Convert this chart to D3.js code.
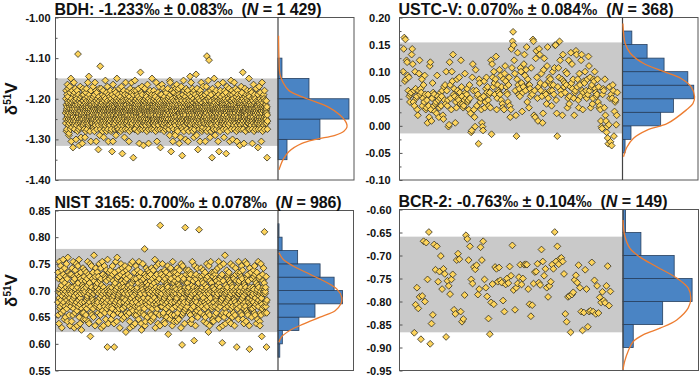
<!DOCTYPE html>
<html>
<head>
<meta charset="utf-8">
<script src="https://cdn.jsdelivr.net/npm/d3@7"></script>
<style>
  body { margin: 0; background: #fff; }
  svg { display: block; font-family: "Liberation Sans", Arial, sans-serif; }
</style>
</head>
<body>
<svg id="chart" width="700" height="376"></svg>
<script>
// ---- titles ----
var sampleNames = ["BDH", "USTC-V", "NIST 3165", "BCR-2"];
var sampleMeans = ["-1.233", "0.070", "0.700", "-0.763"];
var sampleSds = ["0.083", "0.084", "0.078", "0.104"];
var sampleN = ["1 429", "368", "986", "149"];
var meanVals = [-1.233, 0.070, 0.700, -0.763];
var sdVals = [0.083, 0.084, 0.078, 0.104];

// ---- y axes ----
var yDomains = [[-1.40, -1.00], [-0.10, 0.20], [0.55, 0.85], [-0.95, -0.60]];
var yMajor = [
  [-1.40, -1.30, -1.20, -1.10, -1.00],
  [-0.10, -0.05, 0, 0.05, 0.10, 0.15, 0.20],
  [0.55, 0.60, 0.65, 0.70, 0.75, 0.80, 0.85],
  [-0.95, -0.90, -0.85, -0.80, -0.75, -0.70, -0.65, -0.60]
];
var yMinor = [
  [-1.35, -1.25, -1.15, -1.05],
  [-0.075, -0.025, 0.025, 0.075, 0.125, 0.175],
  [],
  []
];

var codeChars = "0123456789abcdefghijklmnopqrstuvwxyzABCDEFGHIJKLMNOPQRSTUVWXYZ";
// BDH: value = -1.36 + code*0.005
var bdhCodes = [
  "pkwmAtgqrhysnDovlxuBmjqefptksCnrzvhmoGlqbtwpiusAqkrm8onvlyEtj",
  "sqhzmrkBtvolcxpnjwqsAumgrtSkonyphlq9vmsiwrCtkqudlnxomjrpaysvB",
  "mrjvtyqokhAsnpdlwuqmgzrsBtokvhnpxmElqrjtsHkmoyvpngwqtrlbAusmk",
  "vtnoqlwkmsCpirxhumqgsyoEtrkjnpAvbqmlzhsrtwpkunq7mjoxrBsvelqtM",
  "qhnsrBmtowjkpvuygrmlAqsdntkxvrphoqjFmwsltrkzgunpqCmvshotbyrkq",
  "krmptxjqolAsvngwhrmuq6ysktpbDnqvrolmjxtshAkprmqzeuvnlowGqtrhi",
  "omqvyrkhtpsBnlwjqmuxrgsotkCvnpqh5zrmsjlwqtvAokpdnmyrhqsEltuvk",
  "tpkqnrwmlhoysAvjqbmurgxtsnkBpqvmolhzEqrtjksnwupm3yqoArlvhtsFp",
  "hqrvsmkAtowpnljyurqgmsxkBtvopanqrlhwmJsqtkpzvnomCryhjslqtu9kv",
  "nsvmqtBkrlohpwjqumyxrgtspDkqnvolmahwrzqtsjkpAunvmoqrlhxtyGsmk",
  "rqpotmkvsAhnlwjyqmruxtgskpEnovqbmrlhsqzwktjpnumCrvoqlhy8stmpk",
  "uylqkDrnmsvhtoBjpwqrgmkxtnsvolAhqrpzmuitksnqvBroljmwtqhxsupeF",
  "jtEylvno6mrkqAsuipwtbqlzomhvzrnCsktpfeqjmBuxlvoDnsyhrqgtAmwkp",
  "BvsyaprjmoxnldukqtCrwismv4qlhpynokFtrgmuAsqwjnpxclovtBkrmzhqs",
  "kmsuAblrtqwgnpvyomkHstjrqlEmxpnhvkotBsrzgmquwldpnsAhkoqytvjrm",
  "ItqlevsBrxojm7qnukpwtrshzlmqbvApnjkrtEoysgqmuhxripCsmkwlqontv",
  "qkrybtohsvmCqpnRgzkrtlswmFjqohPrvxktndsqAlmrgyuvpkj3otmBrsnhq",
  "ihrtqGwolnvuezqmrpkAhstxjmlorvqnDbptksy6qumrhwgnvsAloqjxtpmrk",
  "kvutlEsqhrymndpkoAvtqwljsmrz5hqpnvCktosgrxumqjwlnBsptbkryvqmo",
  "pFsthvlrAoqycmpuwnsktjrqEzhlomvqpBknstxgrumbqjvAsyohlmwrnqkpt",
  "vk9utqlsjhyrCmonvzpktqsJmwhlrqnaponqvtBkxsmgqruyjlnpwotAkmsvrhq",
  "kmsGytxhlrqomvnuApkjstqzrwhamlovnqkDpstgrxymuqjwpholrkBtqmvsn",
  "kpmts8yhlqovrCmunpjtkwzqshlrmbqvonEpksgtxurmqyjwlnhAsvkmtopqr",
  "tqmvrkps3ohl"
].join("");
// USTC-V: value = -0.04 + code*0.0035
var ustcCodes = [
  "EQWzVAKJCuBrostNQIoumEvqrkhuDKsvtAmqxo",
  "CsklpdsmgHJkeqytmsjnoiCrpglqtmruhfwpxn",
  "EumpbcJxqkEzNsvrdolAuqpBtnKwrnlmpDtqsvo",
  "pkxqi89BIukgbFumrs2Ayoqkdb9rzlovBtwpms",
  "tlK7IBwEysAMkqxutFsCpwnlAkDHzwtsoxBmgk",
  "QGUZSKDuh6AOxsvrGEyjtwINCuFRoAxlxvrGts",
  "VUhugLPBqewQNyuDrdiFLxtsnHRqzBuAxmuExs",
  "GSSpi6wGBUKusAhNzwytExDlqKnrwOyIvAqhtu",
  "PNwAplDxrKNuktzyEruqAsMHuBlwxnqAzEvtrs",
  "AowlmkebasvulAhe8b52cwq3s1qxu6jopcht"
].join("");
// NIST 3165: value = 0.59 + code*0.004
var nistCodes = [
  "mAgrxcoFsjyqkDtnhuaBplwrGzimseqCvkfoyrtEjnxdpHqlAusgmzobrt",
  "qkzsdmCnrtgFwjoyapxhBlrsuEmqibtzDvkpnGfrylcoxAqs9mjwhurCte",
  "hsyqmBkrwegtAnjxopFuldzrcqvmyE6ksrhDtgpoxnAjfqIwmslbyrCtuk",
  "trlAvnmhyqdsEjokwgrCxpaumFiqzsnbtlrDkhoyxeqmBwjs1GrncpkqAt",
  "xqhsBrmeyktojDznwgrpc1uAlvqmFrsidnHxtkyohpBjqlaumrzEsgwtoC",
  "ejrvAomtfqyDkwn8shBxlrgtpzqmCuhkdsaynrEotjvqlFmibpwxsAgrck",
  "nqDxgmrstiBkvoezFljyphrAqnc9wumtsEhkxogrjLzbqdmyCvtlnfrsBu",
  "soyrkAmqhwdzgtCnrujxepBlfsvqoGyamrtkDhzljnwcqsErxmgtbWopkA",
  "zrqkmEtsghwyndoBcrxlpjAqfvumsDt7ykqhrnzeowClxgmsrbjFtpqAvd",
  "grmwtyAkqnsodCfhzvxleurBjpqmtsaEkry2gnDohlwxqmcisVtjvzBrpq",
  "kvsmqrBtyhnxdogAzcprjeuFqmlwskt4ryDnhbqxzomgiCtfsrvpkUyjlq",
  "rqhxCmsypkwtnvBozgdrmjAfuqlsxcEtknyrh8pDqmbgwsoFzlrvjAtkde",
  "ytdmrAqsgkzxoBhwnprluCqjeFmvsaxtkrDmyngqz3obhwrEsfplqItjcu",
  "hmqBsrtynkxzoAdgwrpvlEcqjmsuftkDrhyxonbqgsmCzwkr1tlpjAqeFv",
  "qwszrmkAhtynDgxqoBerlpcjvsumFkqtdirEyxhzgnwrmob0CsqtlkAjpf",
  "nxpjrtqmBsyhDkgzowlvcqArsemuFkntpxydbhqrEgmo6ljszwqtCrkvTh",
  "sqrtkmy1hn"
].join("");
// BCR-2: values in sequence order
var bcrValues = [-0.868, -0.807, -0.770, -0.815, -0.790, -0.882, -0.788, -0.669, -0.800, -0.672,
  -0.752, -0.649, -0.892, -0.848, -0.829, -0.676, -0.731, -0.680, -0.757, -0.735,
  -0.701, -0.773, -0.729, -0.740, -0.877, -0.755, -0.766, -0.784, -0.752, -0.741,
  -0.818, -0.827, -0.710, -0.696, -0.708, -0.822, -0.844, -0.838, -0.786, -0.656,
  -0.664, -0.710, -0.680, -0.752, -0.761, -0.725, -0.730, -0.721, -0.785, -0.773,
  -0.682, -0.710, -0.669, -0.752, -0.770, -0.789, -0.837, -0.871, -0.802, -0.762,
  -0.806, -0.725, -0.729, -0.757, -0.726, -0.754, -0.759, -0.798, -0.822, -0.763,
  -0.750, -0.760, -0.724, -0.744, -0.678, -0.775, -0.818, -0.770, -0.761, -0.747,
  -0.720, -0.763, -0.750, -0.720, -0.719, -0.720, -0.773, -0.806, -0.832, -0.808,
  -0.761, -0.736, -0.735, -0.718, -0.759, -0.764, -0.687, -0.713, -0.744, -0.729,
  -0.770, -0.790, -0.766, -0.757, -0.720, -0.729, -0.649, -0.713, -0.680, -0.719,
  -0.707, -0.705, -0.713, -0.740, -0.827, -0.844, -0.790, -0.788, -0.867, -0.785,
  -0.780, -0.753, -0.743, -0.759, -0.721, -0.770, -0.822, -0.863, -0.824, -0.731,
  -0.773, -0.855, -0.822, -0.820, -0.715, -0.822, -0.754, -0.827, -0.766, -0.825,
  -0.791, -0.802, -0.779, -0.798, -0.803, -0.766, -0.723, -0.809, -0.778];

// ---- histograms (bin edges, counts) ----
var bdhEdges = [-1.35, -1.30, -1.25, -1.20, -1.15, -1.10];
var bdhCounts = [82, 382, 646, 282, 36];
var ustcEdges = [-0.05, -0.025, 0, 0.025, 0.05, 0.075, 0.10, 0.125, 0.15, 0.175];
var ustcCounts = [3, 10, 45, 60, 84, 77, 49, 29, 11];
var nistEdges = [0.575, 0.60, 0.625, 0.65, 0.675, 0.70, 0.725, 0.75, 0.775, 0.80, 0.825];
var nistCounts = [7, 17, 82, 145, 253, 220, 165, 77, 16, 4];
var bcrEdges = [-0.90, -0.85, -0.80, -0.75, -0.70, -0.65, -0.60];
var bcrCounts = [8, 31, 54, 40, 14, 2];

// ---- fitted curves [value, count] ----
var bdhCurve = [[-1.045, 5], [-1.10, 9], [-1.14, 18], [-1.16, 46], [-1.18, 100], [-1.20, 264],
  [-1.22, 455], [-1.24, 564], [-1.26, 623], [-1.27, 628], [-1.28, 600], [-1.29, 519],
  [-1.30, 346], [-1.31, 218], [-1.33, 100], [-1.35, 46], [-1.375, 9]];
var ustcCurve = [[0.189, 0.5], [0.152, 3.2], [0.134, 9.2], [0.115, 25], [0.10, 49], [0.0875, 69],
  [0.072, 81], [0.0535, 85], [0.041, 83], [0.029, 75], [0.0044, 53], [-0.008, 29],
  [-0.023, 13], [-0.039, 5.3], [-0.057, 1.2]];
var nistCurve = [[0.771, 4], [0.7585, 20], [0.746, 59], [0.7305, 125], [0.715, 191], [0.7025, 231],
  [0.687, 250], [0.6745, 246], [0.662, 224], [0.65, 165], [0.637, 99], [0.625, 46],
  [0.6125, 13], [0.603, 4]];
var bcrCurve = [[-0.623, 0], [-0.656, 1.3], [-0.684, 5.3], [-0.703, 13], [-0.724, 26], [-0.749, 42],
  [-0.771, 51], [-0.793, 53], [-0.814, 51], [-0.84, 42], [-0.858, 29], [-0.872, 16],
  [-0.887, 8], [-0.908, 4], [-0.93, 1.3], [-0.948, 0]];

function decode(str, lo, step) {
  return str.split("").map(function(c) { return lo + codeChars.indexOf(c) * step; });
}

var seriesValues = [
  decode(bdhCodes, -1.36, 0.005),
  decode(ustcCodes, -0.04, 0.0035),
  decode(nistCodes, 0.59, 0.004),
  bcrValues
];
var histEdges = [bdhEdges, ustcEdges, nistEdges, bcrEdges];
var histCounts = [bdhCounts, ustcCounts, nistCounts, bcrCounts];
var curves = [bdhCurve, ustcCurve, nistCurve, bcrCurve];

// layout of the four panels
var panels = [
  {x0: 55.5, x1: 278, x2: 354, y0: 17.5, y1: 180, gap: 5, padL: 0.05, padR: 0.052, hMax: 692, tw: 267},
  {x0: 399.5, x1: 622.5, x2: 698, y0: 17.5, y1: 180, gap: 9, padL: 0.017, padR: 0.024, hMax: 89, tw: 275},
  {x0: 55.5, x1: 278, x2: 353.5, y0: 210.5, y1: 370.5, gap: 5, padL: 0.011, padR: 0.053, hMax: 296, tw: 287},
  {x0: 399.5, x1: 623, x2: 698.5, y0: 209.5, y1: 370.5, gap: 8, padL: 0.075, padR: 0.064, hMax: 59, tw: 269}
];

var svg = d3.select("#chart");
var diamond = d3.symbol().type(d3.symbolSquare).size(23);

panels.forEach(function(p, k) {
  var vals = seriesValues[k];
  var n = vals.length;
  var x = d3.scaleLinear().domain([-p.padL * n, (n - 1) + p.padR * n]).range([p.x0, p.x1]);
  var y = d3.scaleLinear().domain(yDomains[k]).range([p.y1, p.y0]);
  var hx = d3.scaleLinear().domain([0, p.hMax]).range([p.x1, p.x2]);
  var g = svg.append("g");

  // mean +/- sd band
  g.append("rect")
    .attr("x", p.x0).attr("width", p.x1 - p.x0)
    .attr("y", y(meanVals[k] + sdVals[k]))
    .attr("height", y(meanVals[k] - sdVals[k]) - y(meanVals[k] + sdVals[k]))
    .attr("fill", "#c9c9c9");

  // points
  g.append("g").selectAll("path")
    .data(vals)
    .enter()
    .append("path")
    .attr("d", diamond)
    .attr("transform", function(d, i) { return "translate(" + x(i) + "," + y(d) + ") rotate(45)"; })
    .attr("fill", "#fdd45c")
    .attr("stroke", "#2f2b1c")
    .attr("stroke-width", 0.75);

  // histogram
  var edges = histEdges[k];
  g.append("g").selectAll("rect")
    .data(histCounts[k])
    .enter()
    .append("rect")
    .attr("x", p.x1)
    .attr("y", function(d, i) { return y(edges[i + 1]); })
    .attr("width", function(d) { return hx(d) - p.x1; })
    .attr("height", function(d, i) { return y(edges[i]) - y(edges[i + 1]); })
    .attr("fill", "#4a84c4")
    .attr("stroke", "#263f5e")
    .attr("stroke-width", 0.8);

  // frame + divider
  g.append("rect")
    .attr("x", p.x0).attr("y", p.y0)
    .attr("width", p.x2 - p.x0).attr("height", p.y1 - p.y0)
    .attr("fill", "none").attr("stroke", "#555").attr("stroke-width", 1);
  g.append("line")
    .attr("x1", p.x1).attr("x2", p.x1).attr("y1", p.y0).attr("y2", p.y1)
    .attr("stroke", "#444").attr("stroke-width", 1.2);

  // fitted curve
  var line = d3.line()
    .x(function(d) { return hx(d[1]); })
    .y(function(d) { return y(d[0]); })
    .curve(d3.curveCatmullRom);
  g.append("path")
    .attr("d", line(curves[k]))
    .attr("fill", "none")
    .attr("stroke", "#ed7d31")
    .attr("stroke-width", 1.3);

  // y axis
  var ax = g.append("g")
    .attr("transform", "translate(" + p.x0 + ",0)")
    .call(d3.axisLeft(y).tickValues(yMajor[k]).tickSize(-3).tickPadding(p.gap)
      .tickFormat(function(d) { return d.toFixed(2); }));
  ax.select(".domain").remove();
  ax.selectAll("line").attr("stroke", "#555");
  ax.selectAll("text")
    .attr("font-family", "Liberation Sans, Arial, sans-serif")
    .attr("font-size", 11).attr("font-weight", "bold").attr("fill", "#111");
  if (yMinor[k].length) {
    var mx = g.append("g")
      .attr("transform", "translate(" + p.x0 + ",0)")
      .call(d3.axisLeft(y).tickValues(yMinor[k]).tickSize(-2).tickFormat(""));
    mx.select(".domain").remove();
    mx.selectAll("line").attr("stroke", "#555");
  }

  // title
  var t = g.append("text")
    .attr("x", p.x0 - 1).attr("y", p.y0 - 3)
    .attr("textLength", p.tw).attr("lengthAdjust", "spacing")
    .style("font-size", "16px").style("font-weight", "bold")
    .style("white-space", "pre").attr("fill", "#111");
  t.append("tspan").text(sampleNames[k] + ": " + sampleMeans[k] + "\u2030 \u00b1 " + sampleSds[k] + "\u2030  (");
  t.append("tspan").style("font-style", "italic").text("N");
  t.append("tspan").text(" = " + sampleN[k] + ")");
});

// y-axis titles on the left panels
[0, 2].forEach(function(k) {
  var p = panels[k];
  var lbl = svg.append("text")
    .attr("transform", "translate(17," + ((p.y0 + p.y1) / 2) + ") rotate(-90)")
    .attr("text-anchor", "middle")
    .style("font-size", "17px").style("font-weight", "bold").attr("fill", "#111");
  lbl.append("tspan").text("\u03b4");
  lbl.append("tspan").attr("dy", -6).style("font-size", "10px").text("51");
  lbl.append("tspan").attr("dy", 6).text("V");
});
</script>
</body>
</html>
